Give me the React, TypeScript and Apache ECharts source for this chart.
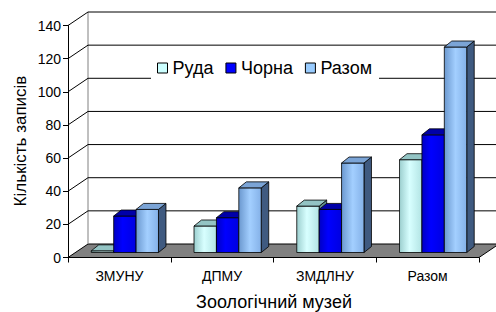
import React, { useEffect, useRef } from "react";
import * as echarts from "echarts";

const categories = ["ЗМУНУ", "ДПМУ", "ЗМДЛНУ", "Разом"];
const seriesNames = ["Руда", "Чорна", "Разом"];
const rudaValues = [1, 16, 28, 56];
const chornaValues = [22, 21, 26, 71];
const razomValues = [26, 39, 54, 124];
const yTicks = [0, 20, 40, 60, 80, 100, 120, 140];

const FONT = "'Liberation Sans', Arial, sans-serif";
// wall depth (back wall offset) and bar plane / bar depth
const WDX = 20;
const WDY = -13.5;
const PLANE_DX = 5.5;
const PLANE_DY = -5;
const BDX = 7.5;
const BDY = -6;
const BAR_FRAC = 0.218;

const palettes = [
  {
    legend: "#ccffff",
    front: [
      { offset: 0, color: "#9ccfcf" },
      { offset: 0.45, color: "#d8ffff" },
      { offset: 1, color: "#b2e4e4" },
    ],
    top: "#93c4c4",
    side: "#5f8f8f",
  },
  {
    legend: "#0000ff",
    front: [
      { offset: 0, color: "#0000c4" },
      { offset: 0.4, color: "#0000ff" },
      { offset: 1, color: "#0000e0" },
    ],
    top: "#0000a8",
    side: "#000078",
  },
  {
    legend: "#99ccff",
    front: [
      { offset: 0, color: "#6b98cf" },
      { offset: 0.5, color: "#a3cfff" },
      { offset: 1, color: "#84b1e8" },
    ],
    top: "#7ba4d6",
    side: "#3f5a80",
  },
];

function barRender(sIdx: number) {
  const pal = palettes[sIdx];
  return (params: any, api: any) => {
    const cat = api.value(0);
    const val = api.value(1);
    const base = api.coord([cat, 0]);
    const top = api.coord([cat, val]);
    const w = api.size([1, 0])[0] * BAR_FRAC;
    const x0 = base[0] + PLANE_DX + (sIdx - 1.5) * w;
    const yb = base[1] + PLANE_DY;
    const yt = top[1] + PLANE_DY;
    const stroke = { stroke: "#000", lineWidth: 0.8 };
    return {
      type: "group",
      children: [
        {
          type: "polygon",
          shape: {
            points: [
              [x0 + w, yt],
              [x0 + w + BDX, yt + BDY],
              [x0 + w + BDX, yb + BDY],
              [x0 + w, yb],
            ],
          },
          style: { fill: pal.side, ...stroke },
        },
        {
          type: "rect",
          shape: { x: x0, y: yt, width: w, height: yb - yt },
          style: {
            fill: new echarts.graphic.LinearGradient(0, 0, 1, 0, pal.front),
            ...stroke,
          },
        },
        {
          type: "polygon",
          shape: {
            points: [
              [x0, yt],
              [x0 + w, yt],
              [x0 + w + BDX, yt + BDY],
              [x0 + BDX, yt + BDY],
            ],
          },
          style: { fill: pal.top, ...stroke },
        },
      ],
    };
  };
}

function wallRender(params: any, api: any) {
  const v = api.value(1);
  const cs = params.coordSys;
  const y = api.coord([0, v])[1];
  const line = { stroke: "#000", lineWidth: 1, fill: null };
  if (v === 0) {
    const yTop = api.coord([0, yTicks[yTicks.length - 1]])[1];
    return {
      type: "group",
      children: [
        {
          type: "polygon",
          shape: {
            points: [
              [cs.x, y],
              [cs.x + cs.width, y],
              [cs.x + cs.width + WDX, y + WDY],
              [cs.x + WDX, y + WDY],
            ],
          },
          style: { fill: "#808080", stroke: "#000", lineWidth: 1 },
        },
        {
          type: "line",
          shape: { x1: cs.x + WDX, y1: y + WDY, x2: cs.x + WDX, y2: yTop + WDY },
          style: { stroke: "#808080", lineWidth: 1 },
        },
      ],
    };
  }
  return {
    type: "polyline",
    shape: {
      points: [
        [cs.x, y],
        [cs.x + WDX, y + WDY],
        [cs.x + cs.width + WDX + 5, y + WDY],
      ],
    },
    style: line,
  };
}

export default function App() {
  const ref = useRef<HTMLDivElement>(null);
  useEffect(() => {
    document.body.style.margin = "0";
    const chart = echarts.init(ref.current!, null, { renderer: "svg" });
    const valueSets = [rudaValues, chornaValues, razomValues];
    chart.setOption({
      animation: false,
      backgroundColor: "#fff",
      textStyle: { fontFamily: FONT },
      grid: { left: 68, top: 25.5, width: 411, height: 232 },
      legend: {
        data: seriesNames.map((n, i) => ({
          name: n,
          itemStyle: { color: palettes[i].legend, borderColor: "#000", borderWidth: 1 },
        })),
        left: 151,
        top: 54,
        icon: "rect",
        itemWidth: 10,
        itemHeight: 10,
        itemGap: 12,
        padding: [5, 7, 5, 6],
        backgroundColor: "#fff",
        itemStyle: { borderColor: "#000", borderWidth: 1 },
        textStyle: { fontSize: 18, color: "#000", fontFamily: FONT },
        selectedMode: false,
      },
      xAxis: {
        type: "category",
        data: categories,
        boundaryGap: true,
        axisLine: { lineStyle: { color: "#000" } },
        axisTick: { show: true, length: 5, lineStyle: { color: "#000" } },
        axisLabel: { fontSize: 14, color: "#000", margin: 11, fontFamily: FONT },
        splitLine: { show: false },
      },
      yAxis: {
        type: "value",
        min: 0,
        max: 140,
        interval: 20,
        axisLine: { show: true, lineStyle: { color: "#000" } },
        axisTick: { show: true, length: 5, lineStyle: { color: "#000" } },
        axisLabel: { fontSize: 14, color: "#000", margin: 7, fontFamily: FONT },
        splitLine: { show: false },
      },
      graphic: [
        {
          type: "text",
          x: 20,
          y: 141,
          rotation: Math.PI / 2,
          style: {
            text: "Кількість записів",
            fontSize: 17,
            fontFamily: FONT,
            fill: "#000",
            align: "center",
            verticalAlign: "middle",
          },
        },
        {
          type: "text",
          x: 274,
          y: 302,
          style: {
            text: "Зоологічний музей",
            fontSize: 18,
            fontFamily: FONT,
            fill: "#000",
            align: "center",
            verticalAlign: "middle",
          },
        },
      ],
      series: [
        {
          type: "custom",
          name: "walls",
          z: 1,
          silent: true,
          clip: false,
          renderItem: wallRender,
          data: yTicks.map((v) => [0, v]),
        },
        ...seriesNames.map((n, i) => ({
          type: "custom",
          name: n,
          z: 2,
          clip: false,
          itemStyle: { color: palettes[i].legend, borderColor: "#000", borderWidth: 1 },
          renderItem: barRender(i),
          data: valueSets[i].map((v, c) => [c, v]),
        })),
      ],
    });
    return () => chart.dispose();
  }, []);
  return <div ref={ref} style={{ width: 496, height: 312 }} />;
}
